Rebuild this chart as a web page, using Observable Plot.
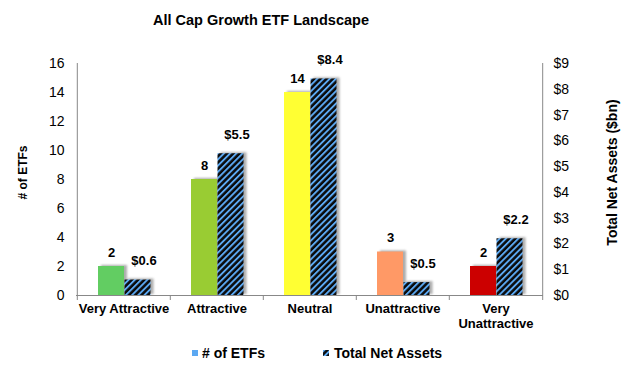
<!DOCTYPE html>
<html><head><meta charset="utf-8">
<script src="https://cdn.jsdelivr.net/npm/d3@7"></script>
<script src="https://cdn.jsdelivr.net/npm/@observablehq/plot@0.6"></script>
<style>
body{margin:0;background:#fff;font-family:Arial,"Liberation Sans",sans-serif;color:#000}
#wrap{position:relative;width:630px;height:369px;overflow:hidden}
#title{position:absolute;left:0;top:10px;width:522px;text-align:center;font-size:14.5px;font-weight:bold;line-height:20px}
#chart{position:absolute;left:0;top:40px}
#legend{position:absolute;top:345px;left:0;width:630px;height:16px;font-size:14px;font-weight:bold;line-height:16px}
.sw{position:absolute;top:5px;width:6px;height:6px}
.lt{position:absolute;top:0;white-space:nowrap}
g[fill="#8a8a8a"]{filter:blur(1.2px);opacity:0.7}
</style></head>
<body>
<svg width="0" height="0" style="position:absolute">
  <defs>
    <pattern id="hatch" patternUnits="userSpaceOnUse" width="4.4" height="4.4" patternTransform="rotate(45)">
      <rect width="4.4" height="4.4" fill="#0a0a0a"></rect>
      <rect width="1.9" height="4.4" fill="#5ba8f2"></rect>
    </pattern>
  </defs>
</svg>
<div id="wrap">
  <div id="title">All Cap Growth ETF Landscape</div>
  <div id="chart"></div>
  <div id="legend">
    <div class="sw" style="left:192px;background:#5ba8f2"></div>
    <div class="lt" style="left:202px"># of ETFs</div>
    <svg class="sw" style="left:323px" width="6" height="6"><rect width="6" height="6" fill="url(#hatch)"></rect></svg>
    <div class="lt" style="left:334px">Total Net Assets</div>
  </div>
</div>
<script>
const categories = ["Very Attractive", "Attractive", "Neutral", "Unattractive", "Very Unattractive"];
const categoryLabels = ["Very Attractive", "Attractive", "Neutral", "Unattractive", "Very\nUnattractive"];
const etfCounts = [2, 8, 14, 3, 2];
const netAssets = [0.6, 5.5, 8.4, 0.5, 2.2];
const leftTicks = [0, 2, 4, 6, 8, 10, 12, 14, 16];
const rightTicks = [0, 1, 2, 3, 4, 5, 6, 7, 8, 9];
const rightTickLabels = ["$0", "$1", "$2", "$3", "$4", "$5", "$6", "$7", "$8", "$9"];
const barColors = ["#62cd62", "#99cc33", "#ffff33", "#ff9966", "#cc0000"];

const data = categories.map((c, i) => ({category: c, count: etfCounts[i], assets: netAssets[i]}));
const k = 16 / 9; // right axis ($0–$9) mapped onto left axis (0–16)

const W = 630, ML = 76, MR = 87;
const bw = (W - ML - MR) / categories.length;

const svg = Plot.plot({
  width: W, height: 300,
  marginLeft: ML, marginRight: MR, marginTop: 23, marginBottom: 45,
  style: {fontFamily: "Arial, 'Liberation Sans', sans-serif", background: "transparent", color: "#000"},
  x: {domain: categories, padding: 0, axis: null},
  y: {domain: [0, 16], axis: null},
  color: {domain: categories, range: barColors},
  marks: [
    Plot.barY(data, {x: "category", y: "count", fill: "#8a8a8a", insetLeft: 21, insetRight: 46, dx: 3, dy: -1}),
    Plot.barY(data, {x: "category", y: d => d.assets * k, fill: "#8a8a8a", insetLeft: 47.5, insetRight: 19.5, dx: 3, dy: -1}),
    Plot.barY(data, {x: "category", y: "count", fill: "category", insetLeft: 21, insetRight: 46}),
    Plot.barY(data, {x: "category", y: d => d.assets * k, fill: "url(#hatch)", insetLeft: 47.5, insetRight: 19.5}),
    Plot.ruleY([0], {stroke: "#888"}),
    Plot.ruleX([categories[0]], {dx: -bw / 2, stroke: "#888"}),
    Plot.ruleX([categories[categories.length - 1]], {dx: bw / 2, stroke: "#888"}),
    Plot.axisX(categories, {tickSize: 5, tickFormat: () => "", dx: -bw / 2, stroke: "#888", label: null}),
    Plot.axisX([categories[categories.length - 1]], {tickSize: 5, tickFormat: () => "", dx: bw / 2, stroke: "#888", label: null}),
    Plot.axisX(categories, {tickSize: 0, tickPadding: 7, fontSize: 13, fontWeight: "bold", lineHeight: 1.15,
      tickFormat: d => categoryLabels[categories.indexOf(d)], label: null}),
    Plot.axisY(leftTicks, {anchor: "left", tickSize: 0, tickPadding: 12, fontSize: 14, label: null}),
    Plot.axisY(rightTicks.map(v => v * k), {anchor: "right", tickSize: 0, tickPadding: 10, fontSize: 14,
      tickFormat: d => rightTickLabels[Math.round(d / k)], label: null}),
    Plot.text(data, {x: "category", y: "count", text: d => String(d.count), dx: -12.5, dy: -14, fontSize: 13, fontWeight: "bold"}),
    Plot.text(data, {x: "category", y: d => d.assets * k, text: d => "$" + d.assets.toFixed(1), dx: 20, dy: -19, fontSize: 13, fontWeight: "bold"}),
    Plot.text(["# of ETFs"], {frameAnchor: "left", textAnchor: "middle", dx: -53, dy: -7, rotate: -90, fontSize: 12, fontWeight: "bold"}),
    Plot.text(["Total Net Assets ($bn)"], {frameAnchor: "right", textAnchor: "middle", dx: 69, dy: -7, rotate: -90, fontSize: 14, fontWeight: "bold"})
  ]
});
document.getElementById("chart").appendChild(svg);
</script>
</body></html>
